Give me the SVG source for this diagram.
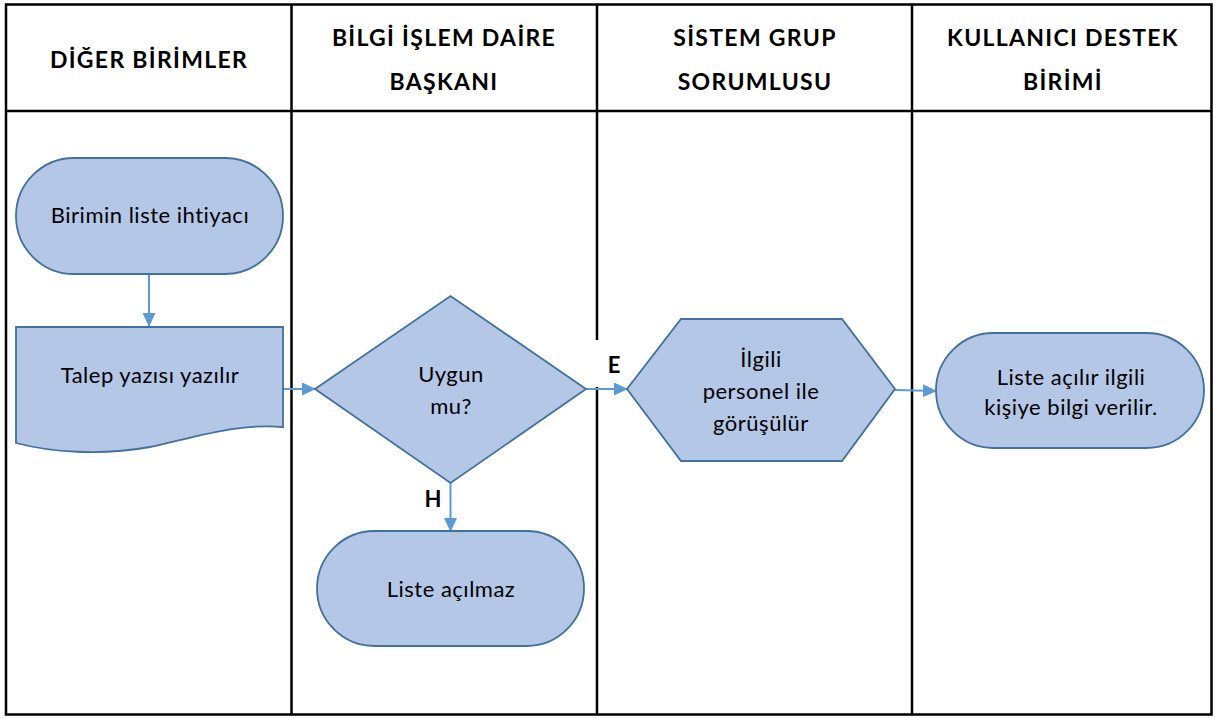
<svg xmlns="http://www.w3.org/2000/svg" width="1215" height="718" viewBox="0 0 1215 718">
<defs>
<marker id="arr" markerWidth="14" markerHeight="13" refX="13" refY="6.5" orient="auto" markerUnits="userSpaceOnUse" viewBox="0 0 14 13">
<path d="M0,0 L14,6.5 L0,13 Z" fill="#5B9BD5"/>
</marker>
<style>
.grid{stroke:#000;stroke-width:2.5;fill:none}
.hdr{font-family:Lato,"Liberation Sans",sans-serif;font-weight:bold;font-size:23px;letter-spacing:1.3px;fill:#000;text-anchor:middle}
.shape{fill:#B4C7E7;stroke:#41719C;stroke-width:1.8}
.lbl{font-family:Lato,"Liberation Sans",sans-serif;font-size:22px;letter-spacing:0.5px;fill:#000;text-anchor:middle}
.yn{font-family:Lato,"Liberation Sans",sans-serif;font-weight:bold;font-size:22px;fill:#000;text-anchor:middle}
.conn{stroke:#5B9BD5;stroke-width:2;fill:none}
</style>
</defs>
<rect width="1215" height="718" fill="#fff"/>
<g id="table">
<rect class="grid" x="6" y="4.5" width="1205.5" height="710"/>
<line class="grid" x1="6" y1="111" x2="1211.5" y2="111"/>
<line class="grid" x1="291.5" y1="4.5" x2="291.5" y2="714.5"/>
<line class="grid" x1="597" y1="4.5" x2="597" y2="340"/>
<line class="grid" x1="597" y1="387" x2="597" y2="714.5"/>
<line class="grid" x1="912" y1="4.5" x2="912" y2="714.5"/>
</g>
<g id="headers">
<text class="hdr" x="149" y="68">DİĞER BİRİMLER</text>
<text class="hdr" x="444" y="46">BİLGİ İŞLEM DAİRE</text>
<text class="hdr" x="444" y="90">BAŞKANI</text>
<text class="hdr" x="755" y="46">SİSTEM GRUP</text>
<text class="hdr" x="755" y="90">SORUMLUSU</text>
<text class="hdr" x="1063" y="46">KULLANICI DESTEK</text>
<text class="hdr" x="1063" y="90">BİRİMİ</text>
</g>
<g id="connectors">
<line class="conn" x1="149" y1="274" x2="149" y2="326" marker-end="url(#arr)"/>
<line class="conn" x1="283" y1="389" x2="315" y2="389" marker-end="url(#arr)"/>
<line class="conn" x1="586" y1="389" x2="627" y2="389" marker-end="url(#arr)"/>
<line class="conn" x1="895" y1="390" x2="936" y2="391" marker-end="url(#arr)"/>
<line class="conn" x1="450.5" y1="483" x2="450.5" y2="531" marker-end="url(#arr)"/>
<text class="yn" x="614" y="373">E</text>
<text class="yn" x="433" y="507">H</text>
</g>
<g id="n1">
<rect class="shape" x="16" y="158" width="267" height="116" rx="58" ry="58"/>
<text class="lbl" x="150" y="223">Birimin liste ihtiyacı</text>
</g>
<g id="n2">
<path class="shape" d="M16,327 H283 V427 C240,423 200,436 150,447 C100,456 50,452 16,443 Z"/>
<text class="lbl" x="150" y="383">Talep yazısı yazılır</text>
</g>
<g id="n3">
<path class="shape" d="M315,389 L450.5,296 L586,389 L450.5,483 Z"/>
<text class="lbl" x="451" y="382">Uygun</text>
<text class="lbl" x="451" y="414">mu?</text>
</g>
<g id="n4">
<path class="shape" d="M627,389 L681,319 L842,319 L895,389 L842,461 L681,461 Z"/>
<text class="lbl" x="761" y="367">İlgili</text>
<text class="lbl" x="761" y="399">personel ile</text>
<text class="lbl" x="761" y="431">görüşülür</text>
</g>
<g id="n5">
<rect class="shape" x="936" y="333" width="268" height="115" rx="57.5" ry="57.5"/>
<text class="lbl" x="1071" y="385">Liste açılır ilgili</text>
<text class="lbl" x="1071" y="415">kişiye bilgi verilir.</text>
</g>
<g id="n6">
<rect class="shape" x="317" y="531" width="267" height="115" rx="57.5" ry="57.5"/>
<text class="lbl" x="451" y="597">Liste açılmaz</text>
</g>
</svg>
